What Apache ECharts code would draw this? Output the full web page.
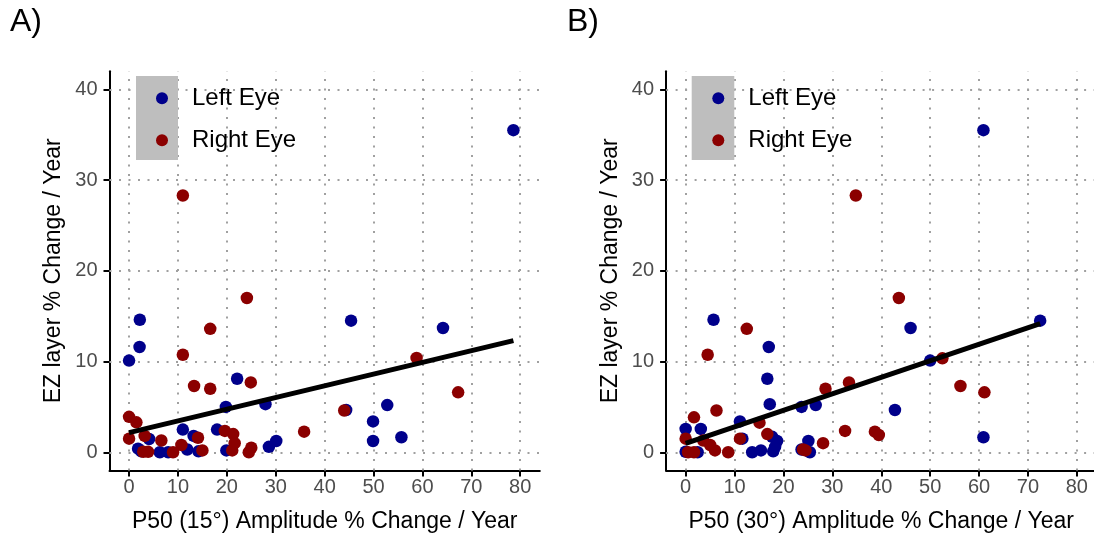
<!DOCTYPE html>
<html>
<head>
<meta charset="utf-8">
<script src="https://cdn.jsdelivr.net/npm/echarts@6/dist/echarts.min.js"></script>
<style>
html,body{margin:0;padding:0;background:#fff;}
#chart{width:1094px;height:540px;}
</style>
</head>
<body>
<div id="chart"></div>
<script>
// ---- data ----
const panelLabels = ['A)', 'B)'];
const xTitles = ['P50 (15°) Amplitude % Change / Year', 'P50 (30°) Amplitude % Change / Year'];
const yTitle = 'EZ layer % Change / Year';
const seriesNames = ['Left Eye', 'Right Eye'];
const xTicks = [0, 10, 20, 30, 40, 50, 60, 70, 80];
const yTicks = [0, 10, 20, 30, 40];

const leftEyeA = [[0.0,10.1],[2.2,14.6],[2.15,11.6],[22.1,8.1],[45.4,14.5],[64.2,13.7],[19.8,5.0],[27.9,5.3],[44.4,4.66],[52.8,5.2],[49.9,3.4],[49.9,1.24],[55.7,1.65],[11.0,2.5],[13.2,1.8],[18.0,2.5],[4.1,1.46],[1.84,0.4],[2.5,0.1],[6.3,0],[8.0,0],[11.9,0.3],[14.2,0.1],[19.9,0.2],[28.6,0.6],[30.1,1.24],[78.6,35.5]];
const rightEyeA = [[11.0,28.3],[24.1,17.0],[16.6,13.6],[11.0,10.75],[13.3,7.3],[16.6,7.0],[24.9,7.7],[58.8,10.4],[67.3,6.6],[44.0,4.6],[35.8,2.27],[0,3.9],[1.5,3.3],[0,1.5],[3.2,1.8],[6.6,1.3],[2.9,0.06],[3.9,0.05],[9.0,0],[10.7,0.8],[14.1,1.6],[15.0,0.2],[19.6,2.35],[21.3,2.0],[21.6,1.0],[21.1,0.2],[25.0,0.5],[24.5,0]];
const leftEyeB = [[5.7,14.6],[17.0,11.6],[16.7,8.1],[17.2,5.3],[46.0,13.7],[72.5,14.5],[50.0,10.1],[42.8,4.66],[23.7,5.0],[26.6,5.2],[60.9,1.65],[11.1,3.4],[0,2.57],[3.1,2.57],[11.6,1.5],[0,0.06],[2.45,0],[13.6,0],[15.4,0.2],[17.9,0.1],[17.7,1.7],[18.7,1.24],[18.3,0.6],[23.7,0.3],[25.1,1.24],[25.4,0],[60.9,35.5]];
const rightEyeB = [[34.8,28.3],[43.6,17.0],[12.5,13.6],[4.5,10.75],[52.5,10.35],[28.6,7.0],[33.4,7.7],[56.2,7.3],[61.1,6.6],[6.3,4.6],[1.7,3.85],[32.6,2.35],[38.7,2.27],[39.5,1.9],[15.1,3.26],[16.7,2.0],[11.1,1.5],[28.1,1.0],[0,1.5],[3.6,1.3],[5.0,0.8],[6.0,0.2],[0.5,0],[1.7,0],[8.7,0],[24.0,0.3],[24.5,0.2]];

// fitted regression lines: [intercept, slope] and x-range
const fitA = [2.16, 0.129];
const fitRangeA = [0, 78.6];
const fitB = [0.99, 0.182];
const fitRangeB = [0, 72.5];

// ---- styling ----
const FONT = 'Liberation Sans, Arial, sans-serif';
const BLUE = '#00008B';
const RED = '#8B0000';
const gridsPos = [
  {left: 109.5, top: 71.2, width: 430.3, height: 399.2},
  {left: 666.1, top: 71.2, width: 430.3, height: 399.2}
];

function fitLine(fit, range) {
  return range.map(x => [x, fit[0] + fit[1] * x]);
}

const chart = echarts.init(document.getElementById('chart'), null, {renderer: 'canvas'});

const xAxes = [], yAxes = [], grids = [], series = [], legends = [], titles = [];
const leftData = [leftEyeA, leftEyeB];
const rightData = [rightEyeA, rightEyeB];
const fits = [fitLine(fitA, fitRangeA), fitLine(fitB, fitRangeB)];
const legendLeft = [151, 707.3];
const labelLeft = [5, 562];

for (let i = 0; i < 2; i++) {
  grids.push(Object.assign({outerBoundsMode: 'none', containLabel: false}, gridsPos[i]));
  xAxes.push({
    type: 'value', gridIndex: i, min: -4, max: 84,
    name: xTitles[i], nameLocation: 'middle', nameGap: 40,
    nameTextStyle: {fontFamily: FONT, fontSize: 23, color: '#000'},
    axisLine: {show: true, onZero: false, lineStyle: {color: '#000', width: 2}},
    axisTick: {show: true, length: 6, lineStyle: {color: '#000', width: 2}, customValues: xTicks},
    axisLabel: {show: true, margin: 7, fontFamily: FONT, fontSize: 20, color: '#4D4D4D', customValues: xTicks, showMinLabel: true, showMaxLabel: true},
    splitLine: {show: false}
  });
  yAxes.push({
    type: 'value', gridIndex: i, min: -2, max: 42,
    name: yTitle, nameLocation: 'middle', nameGap: 44, nameRotate: 90,
    nameTextStyle: {fontFamily: FONT, fontSize: 23, color: '#000'},
    axisLine: {show: true, onZero: false, lineStyle: {color: '#000', width: 2}},
    axisTick: {show: true, length: 6, lineStyle: {color: '#000', width: 2}, customValues: yTicks},
    axisLabel: {show: true, margin: 12, fontFamily: FONT, fontSize: 20, color: '#4D4D4D', customValues: yTicks},
    splitLine: {show: false}
  });
  // grid (dotted) lines drawn at tick values
  series.push({
    type: 'scatter', xAxisIndex: i, yAxisIndex: i, data: [], silent: true, z: 1,
    markLine: {
      silent: true, symbol: 'none', animation: false, z: 1,
      label: {show: false},
      lineStyle: {color: '#a0a0a0', width: 2, type: [2, 7.5]},
      emphasis: {disabled: true},
      data: xTicks.map(v => ({xAxis: v})).concat(yTicks.map(v => ({yAxis: v})))
    }
  });
  series.push({
    name: seriesNames[0], type: 'scatter', xAxisIndex: i, yAxisIndex: i,
    data: leftData[i], symbol: 'circle', symbolSize: 12.5, z: 3,
    itemStyle: {color: BLUE, opacity: 1}
  });
  series.push({
    name: seriesNames[1], type: 'scatter', xAxisIndex: i, yAxisIndex: i,
    data: rightData[i], symbol: 'circle', symbolSize: 12.5, z: 4,
    itemStyle: {color: RED, opacity: 1}
  });
  series.push({
    type: 'line', xAxisIndex: i, yAxisIndex: i, data: fits[i], showSymbol: false, symbol: 'none',
    silent: true, z: 5, lineStyle: {color: '#000', width: 5}
  });
  legends.push({
    data: seriesNames, orient: 'vertical', left: legendLeft[i], top: 81.3,
    icon: 'circle', itemWidth: 12, itemHeight: 12, itemGap: 18, z: 6,
    selectedMode: false,
    textStyle: {fontFamily: FONT, fontSize: 24, lineHeight: 24, color: '#000', padding: [0, 0, 0, 19]}
  });
  titles.push({
    text: panelLabels[i], left: labelLeft[i], top: 1,
    textStyle: {fontFamily: FONT, fontSize: 32, fontWeight: 'normal', color: '#000'}
  });
}

const option = {
  animation: false,
  backgroundColor: '#fff',
  title: titles,
  grid: grids,
  xAxis: xAxes,
  yAxis: yAxes,
  legend: legends,
  graphic: [
    {type: 'rect', shape: {x: 136, y: 76, width: 42, height: 84}, style: {fill: '#BEBEBE'}, z: 5, silent: true},
    {type: 'rect', shape: {x: 691.7, y: 76, width: 42.6, height: 84}, style: {fill: '#BEBEBE'}, z: 5, silent: true}
  ],
  series: series
};
chart.setOption(option);
</script>
</body>
</html>
